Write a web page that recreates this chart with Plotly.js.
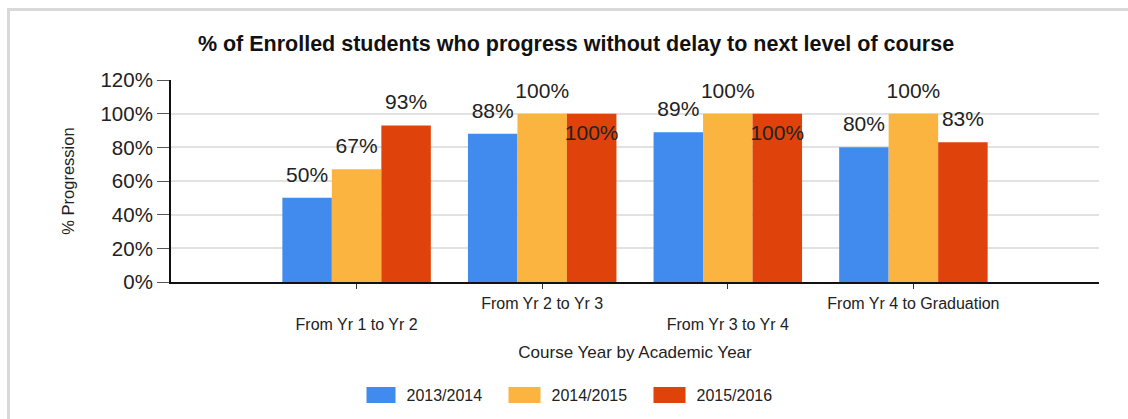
<!DOCTYPE html>
<html>
<head>
<meta charset="utf-8">
<script src="https://cdn.plot.ly/plotly-3.0.1.min.js"></script>
<style>
  html, body { margin: 0; padding: 0; background: #fff; }
  #wrap { position: relative; width: 1128px; height: 419px; }
  #chart { width: 1128px; height: 419px; }
  #frame { position: absolute; left: 7px; top: 8px; right: 0; bottom: 0;
           border-left: 3px solid #d9d9d9; border-top: 3px solid #d9d9d9; pointer-events: none; }
</style>
</head>
<body>
<div id="wrap">
  <div id="chart"></div>
  <div id="frame"></div>
</div>
<script>
const categories = ['From Yr 1 to Yr 2', 'From Yr 2 to Yr 3', 'From Yr 3 to Yr 4', 'From Yr 4 to Graduation'];
const seriesNames = ['2013/2014', '2014/2015', '2015/2016'];
const values2013 = [50, 88, 89, 80];
const values2014 = [67, 100, 100, 100];
const values2015 = [93, 100, 100, 83];
const labelPos2013 = ['outside', 'outside', 'outside', 'outside'];
const labelPos2014 = ['outside', 'outside', 'outside', 'outside'];
const labelPos2015 = ['outside', 'inside', 'inside', 'outside'];
const colors = ['#418BEE', '#FBB440', '#E0420C'];
const yTickVals = [0, 20, 40, 60, 80, 100, 120];
const yTickLabels = ['0%', '20%', '40%', '60%', '80%', '100%', '120%'];

const FONT = 'Liberation Sans, Arial, sans-serif';
const seriesValues = [values2013, values2014, values2015];
const labelPositions = [labelPos2013, labelPos2014, labelPos2015];

const tickText = categories.map((c, i) => (i % 2 === 0 ? '<br>' + c : c));

const traces = seriesNames.map((name, s) => ({
  type: 'bar',
  name: name,
  x: categories,
  y: seriesValues[s],
  text: seriesValues[s].map(v => v + '%'),
  textposition: labelPositions[s],
  insidetextanchor: 'end',
  textangle: 0,
  constraintext: 'none',
  cliponaxis: false,
  textfont: { family: FONT, size: 21, color: '#222' },
  outsidetextfont: { family: FONT, size: 21, color: '#222' },
  insidetextfont: { family: FONT, size: 21, color: '#222' },
  marker: { color: colors[s], line: { width: 0 } },
  hoverinfo: 'none'
}));

const layout = {
  width: 1128,
  height: 419,
  margin: { l: 171, r: 29, t: 80, b: 137, pad: 0 },
  paper_bgcolor: 'rgba(0,0,0,0)',
  plot_bgcolor: '#fff',
  barmode: 'group',
  bargap: 0.2,
  bargroupgap: 0,
  font: { family: FONT, color: '#222' },
  title: {
    text: '<b>% of Enrolled students who progress without delay to next level of course</b>',
    font: { family: FONT, size: 21.5, color: '#111' },
    xref: 'container', x: 576 / 1128, xanchor: 'center',
    yref: 'container', y: 1 - 43 / 419, yanchor: 'middle'
  },
  xaxis: {
    type: 'category',
    range: [-1, 4],
    tickvals: categories,
    ticktext: tickText,
    tickfont: { family: FONT, size: 16, color: '#222' },
    ticks: 'outside',
    ticklen: 5,
    tickwidth: 1,
    tickcolor: '#333',
    ticklabelstandoff: 1,
    showline: true,
    linecolor: '#111',
    linewidth: 2,
    showgrid: false,
    zeroline: false,
    automargin: false,
    title: {
      text: 'Course Year by Academic Year',
      font: { family: FONT, size: 17, color: '#222' },
      standoff: 14
    }
  },
  yaxis: {
    range: [0, 120],
    tickmode: 'array',
    tickvals: yTickVals,
    ticktext: yTickLabels,
    tickfont: { family: FONT, size: 20.5, color: '#222' },
    ticks: 'outside',
    ticklen: 12,
    tickwidth: 1,
    tickcolor: '#555',
    ticklabelstandoff: 0,
    showline: true,
    linecolor: '#111',
    linewidth: 2,
    showgrid: true,
    gridcolor: '#e2e2e2',
    gridwidth: 2,
    zeroline: false,
    automargin: false,
    title: {
      text: '% Progression',
      font: { family: FONT, size: 16.5, color: '#222' },
      standoff: 22
    }
  },
  showlegend: true,
  legend: {
    orientation: 'h',
    xref: 'container', x: 584 / 1128, xanchor: 'center',
    yref: 'container', y: 1 - 395 / 419, yanchor: 'middle',
    font: { family: FONT, size: 16, color: '#222' },
    entrywidthmode: 'pixels',
    entrywidth: 100,
    tracegroupgap: 0,
    bgcolor: 'rgba(0,0,0,0)'
  }
};

Plotly.newPlot('chart', traces, layout, { displayModeBar: false, staticPlot: true }).then(gd => {
  // nudge bar labels to match the reference's label spacing
  gd.querySelectorAll('text.bartext-outside').forEach(t => {
    const tr = t.getAttribute('transform') || '';
    t.setAttribute('transform', 'translate(0,-9) ' + tr);
  });
  gd.querySelectorAll('text.bartext-inside').forEach(t => {
    const tr = t.getAttribute('transform') || '';
    t.setAttribute('transform', 'translate(0,4) ' + tr);
  });
  // larger legend swatches, as in the reference
  gd.querySelectorAll('.legendpoints path').forEach(p => {
    const tr = p.getAttribute('transform') || '';
    p.setAttribute('transform', tr + ' translate(-7,0) scale(2.67,1.33)');
  });
});
</script>
</body>
</html>
